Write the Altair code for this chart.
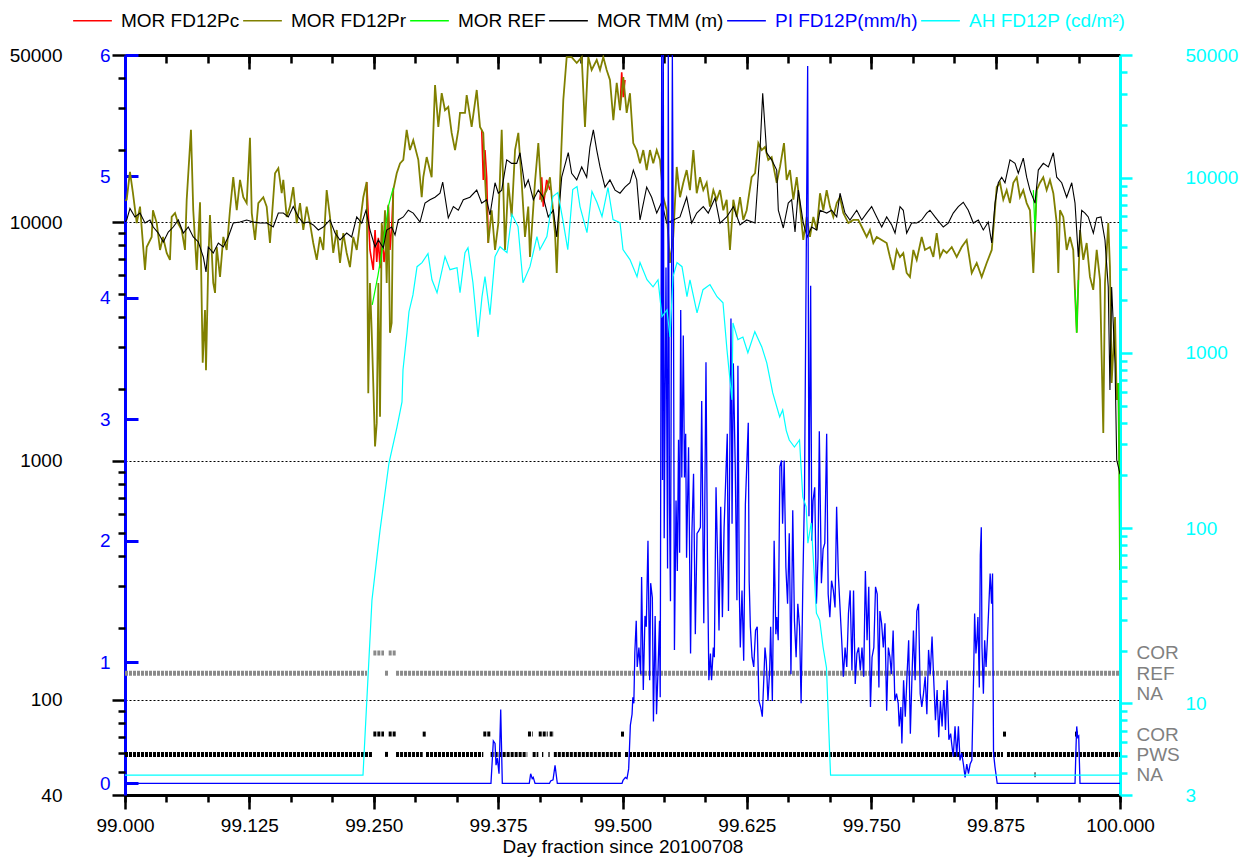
import altair as alt
import pandas as pd

FONT = "Liberation Sans"
FS = 19
DAY0 = 99.0

# ---------------- series names / colours ----------------
SERIES = ["MOR FD12Pc", "MOR FD12Pr", "MOR REF", "MOR TMM (m)", "PI FD12P(mm/h)", "AH FD12P (cd/m\u00b2)"]
COLORS = ["#ff0000", "#808000", "#00ff00", "#000000", "#0000ff", "#00ffff"]
LEGEND_TEXT_COLORS = ["#000000", "#000000", "#000000", "#000000", "#0000ff", "#00ffff"]

# ---------------- MOR FD12Pr (olive) : day fraction, metres ----------------
olive_t = [
    0, 0.0017, 0.005, 0.008, 0.0118, 0.0151, 0.0201, 0.0218, 0.0268, 0.0281,
    0.0319, 0.0352, 0.0382, 0.0419, 0.0452, 0.0469, 0.0503, 0.0533, 0.057, 0.0603,
    0.062, 0.0663, 0.0686, 0.0721, 0.0754, 0.0781, 0.0804, 0.0814, 0.0837, 0.0854,
    0.0887, 0.0905, 0.0922, 0.0955, 0.0988, 0.1022, 0.1055, 0.1088, 0.1123, 0.1156,
    0.1189, 0.1223, 0.1256, 0.1274, 0.1307, 0.134, 0.139, 0.1424, 0.1457, 0.1474,
    0.1508, 0.1541, 0.1575, 0.1591, 0.1625, 0.1658, 0.1691, 0.1726, 0.1759, 0.1792,
    0.1826, 0.1859, 0.1892, 0.1927, 0.196, 0.1993, 0.2027, 0.206, 0.2093, 0.2128,
    0.2161, 0.2194, 0.2228, 0.2261, 0.2294, 0.2329, 0.2362, 0.2395, 0.2429, 0.2445,
    0.2462, 0.2479, 0.2495, 0.2513, 0.253, 0.2546, 0.2563, 0.258, 0.2596, 0.2613,
    0.263, 0.2646, 0.2663, 0.268, 0.2696, 0.2731, 0.2764, 0.2797, 0.2831, 0.2864,
    0.2897, 0.2948, 0.2982, 0.2998, 0.3032, 0.3082, 0.3116, 0.3149, 0.3183, 0.3216,
    0.3249, 0.3283, 0.3317, 0.335, 0.3367, 0.3417, 0.3434, 0.3484, 0.3535, 0.3568,
    0.3601, 0.3618, 0.3651, 0.3685, 0.3719, 0.3752, 0.3786, 0.3819, 0.3852, 0.3886,
    0.392, 0.3953, 0.3987, 0.402, 0.4053, 0.407, 0.412, 0.4154, 0.4188, 0.4238,
    0.4271, 0.4322, 0.4339, 0.4372, 0.4405, 0.4439, 0.4489, 0.454, 0.459, 0.4623,
    0.4656, 0.469, 0.4741, 0.4774, 0.4807, 0.4841, 0.4874, 0.4908, 0.4942, 0.4975,
    0.5008, 0.5042, 0.5075, 0.5108, 0.5143, 0.5176, 0.5209, 0.5243, 0.5276, 0.5309,
    0.5344, 0.5377, 0.541, 0.5444, 0.5477, 0.551, 0.5545, 0.5578, 0.5611, 0.5645,
    0.5678, 0.5712, 0.5746, 0.5779, 0.5812, 0.5846, 0.5879, 0.5913, 0.5947, 0.598,
    0.6013, 0.6047, 0.608, 0.6114, 0.6148, 0.6181, 0.6214, 0.6248, 0.6298, 0.6332,
    0.6365, 0.6399, 0.6432, 0.6465, 0.6499, 0.655, 0.6583, 0.6623, 0.665, 0.6683,
    0.6717, 0.6751, 0.6784, 0.6817, 0.6851, 0.6884, 0.6918, 0.6952, 0.6985, 0.7018,
    0.7052, 0.7085, 0.7119, 0.7153, 0.7186, 0.7219, 0.727, 0.732, 0.737, 0.742,
    0.7454, 0.7487, 0.7521, 0.7555, 0.7605, 0.7655, 0.7688, 0.7722, 0.7756, 0.7789,
    0.7822, 0.7856, 0.7889, 0.7923, 0.7957, 0.8007, 0.804, 0.809, 0.8124, 0.8158,
    0.8191, 0.8224, 0.8258, 0.8309, 0.8359, 0.8409, 0.8459, 0.851, 0.856, 0.861,
    0.866, 0.8711, 0.8727, 0.8761, 0.8794, 0.8827, 0.8861, 0.8894, 0.8928, 0.8962,
    0.8995, 0.9028, 0.9062, 0.9095, 0.9129, 0.9146, 0.9163, 0.9196, 0.9229, 0.9263,
    0.9296, 0.933, 0.9364, 0.938, 0.9397, 0.943, 0.9464, 0.9497, 0.953, 0.9565,
    0.9598, 0.9631, 0.9665, 0.9698, 0.9731, 0.9766, 0.9799, 0.9832, 0.9849, 0.9882,
    0.9899, 0.9916, 0.995, 0.9967, 0.9983, 0.9993, 1.0,
]
olive_v = [
    12300, 12400, 16200, 13200, 9900, 11600, 6300, 7860, 8660, 11200,
    9900, 7640, 8660, 7420, 6940, 10500, 10900, 9900, 9260, 7640,
    12400, 24300, 11200, 6300, 12100, 2580, 4280, 2400, 6740, 10700,
    5560, 5050, 7860, 5890, 8660, 7640, 11200, 15400, 11200, 15000,
    12700, 12000, 22500, 10900, 8410, 12000, 12700, 11600, 8170, 10200,
    16000, 16800, 13200, 15000, 10500, 11600, 14000, 9900, 12000, 9260,
    11600, 9900, 8170, 6940, 8660, 7640, 13600, 10500, 7420, 9260,
    6740, 8990, 7420, 6480, 8660, 7640, 9900, 12700, 14700, 1920,
    5560, 3530, 2120, 1150, 1440, 5560, 1530, 9900, 7640, 11200,
    5560, 11600, 3440, 3780, 13600, 16000, 17600, 18200, 24300, 20000,
    22000, 18200, 12700, 15400, 18700, 15400, 37400, 25000, 34600, 29400,
    30300, 23600, 20000, 24300, 28600, 28600, 34000, 25000, 35700, 25000,
    23600, 15400, 8170, 11200, 7640, 9900, 24300, 7640, 14600, 10500,
    20000, 23600, 14600, 8660, 11600, 7140, 14600, 21400, 12400, 13600,
    15400, 8990, 6120, 14600, 32400, 49000, 49000, 46300, 49000, 25000,
    49000, 43300, 47700, 43300, 49000, 43300, 39300, 26700, 38200, 29400,
    40400, 28600, 34600, 21400, 20000, 17600, 20000, 16500, 20000, 17600,
    20000, 18200, 12700, 11200, 6740, 8660, 17000, 12700, 14600, 16500,
    13600, 20000, 13200, 15400, 13600, 14600, 11600, 13600, 12400, 13600,
    11200, 12400, 7640, 12400, 10500, 12700, 10200, 11200, 15400, 16000,
    21400, 20000, 20600, 18200, 18700, 14600, 17000, 21400, 15000, 16500,
    12400, 15400, 11600, 8410, 10500, 8660, 10500, 9260, 13200, 11200,
    13600, 11600, 10500, 12000, 12700, 10900, 9900, 10200, 10200, 9260,
    8660, 9260, 8170, 8660, 8410, 8170, 7140, 6300, 7640, 7140,
    7420, 6120, 5890, 7640, 6940, 8660, 7640, 7860, 7140, 8990,
    7140, 7640, 7420, 7860, 7140, 7860, 8410, 6120, 6740, 5890,
    6740, 7640, 9260, 14000, 14600, 12400, 13600, 12000, 14600, 15400,
    12700, 13600, 12000, 11200, 6120, 9260, 13600, 14600, 15400, 13600,
    15000, 13200, 9900, 6120, 11200, 10500, 7640, 8660, 7640, 3440,
    9260, 6940, 8170, 5890, 5200, 7640, 5720, 1310, 5560, 9900,
    6480, 2120, 4000, 1800, 2120, 910, 350,
]

# ---------------- MOR TMM (black) ----------------
tmm_t = [
    0, 0.0017, 0.005, 0.01, 0.0151, 0.0201, 0.0251, 0.0284, 0.0335, 0.0385,
    0.0435, 0.0485, 0.0536, 0.0586, 0.0636, 0.0686, 0.0737, 0.0787, 0.0814, 0.0837,
    0.0887, 0.0938, 0.0988, 0.1038, 0.1088, 0.1156, 0.1223, 0.1289, 0.1357, 0.1424,
    0.149, 0.1541, 0.1591, 0.1641, 0.1691, 0.1742, 0.1792, 0.1842, 0.1892, 0.1943,
    0.1993, 0.206, 0.2111, 0.2161, 0.2228, 0.2278, 0.2329, 0.2379, 0.2422, 0.2462,
    0.2513, 0.2546, 0.2596, 0.263, 0.268, 0.2714, 0.2747, 0.2797, 0.2847, 0.2897,
    0.2965, 0.3015, 0.3065, 0.3116, 0.3166, 0.3193, 0.3249, 0.33, 0.335, 0.34,
    0.3467, 0.3535, 0.3585, 0.3635, 0.3668, 0.3719, 0.3752, 0.3786, 0.3836, 0.3886,
    0.3937, 0.397, 0.402, 0.4053, 0.4104, 0.4154, 0.4204, 0.4254, 0.4305, 0.4339,
    0.4389, 0.4455, 0.4489, 0.454, 0.459, 0.464, 0.4673, 0.4707, 0.4741, 0.4774,
    0.4824, 0.4874, 0.4925, 0.4975, 0.5025, 0.5075, 0.5109, 0.5143, 0.5176, 0.5243,
    0.5293, 0.5344, 0.5394, 0.5444, 0.5511, 0.5578, 0.5645, 0.5695, 0.5746, 0.5812,
    0.5862, 0.593, 0.598, 0.6047, 0.6114, 0.6181, 0.6248, 0.6332, 0.6382, 0.6409,
    0.6449, 0.6499, 0.655, 0.6566, 0.6616, 0.6666, 0.67, 0.6734, 0.6767, 0.6817,
    0.6857, 0.6901, 0.6952, 0.6985, 0.7052, 0.7102, 0.7153, 0.7186, 0.7236, 0.7286,
    0.7354, 0.7404, 0.7454, 0.7504, 0.7555, 0.7605, 0.7655, 0.7706, 0.7739, 0.7789,
    0.7822, 0.7856, 0.7906, 0.7957, 0.8007, 0.8057, 0.809, 0.8141, 0.8191, 0.8224,
    0.8274, 0.8324, 0.8375, 0.8425, 0.8475, 0.8526, 0.8576, 0.8626, 0.8676, 0.8711,
    0.8744, 0.8777, 0.8811, 0.8844, 0.8894, 0.8945, 0.8978, 0.9028, 0.9062, 0.9095,
    0.9146, 0.9179, 0.9229, 0.928, 0.933, 0.9364, 0.9414, 0.9464, 0.9515, 0.9548,
    0.9581, 0.9615, 0.9648, 0.9681, 0.9732, 0.9766, 0.9809, 0.9849, 0.9882, 0.9899,
    0.9916, 0.995, 0.9967, 0.9993, 1.0,
]
tmm_v = [
    10000, 10200, 11400, 10500, 10900, 9900, 10200, 9530, 8990, 8250,
    9080, 9530, 10200, 8990, 9530, 8660, 8250, 7140, 6180, 7860,
    7420, 8170, 7860, 8660, 9900, 10000, 10200, 10000, 9900, 9900,
    9530, 10900, 10900, 10500, 11600, 10500, 9900, 10000, 9720, 9260,
    9530, 10200, 8990, 8410, 8990, 8660, 10500, 9900, 11200, 9260,
    7860, 8410, 7800, 9260, 9530, 8820, 10200, 10500, 11200, 10900,
    10000, 12000, 12400, 12700, 13200, 14700, 10400, 11600, 11200, 12400,
    12700, 13600, 12000, 12400, 10700, 14600, 13200, 13600, 18200, 17600,
    17600, 19500, 14000, 15000, 12400, 13600, 12700, 10500, 11200, 8660,
    15400, 19500, 16000, 15000, 17000, 15400, 20600, 24300, 20000, 17000,
    14000, 15000, 13600, 13200, 14000, 14600, 16500, 15000, 10200, 14000,
    12700, 10900, 12100, 9900, 10200, 10500, 12700, 9900, 10900, 11600,
    10900, 12600, 9900, 10500, 11600, 9720, 10200, 9900, 20000, 34600,
    19500, 18200, 16500, 11200, 9440, 12000, 12400, 9080, 13600, 9900,
    8660, 9530, 9260, 11200, 10900, 11200, 10500, 13200, 10900, 10200,
    11200, 10200, 10900, 11600, 10500, 9530, 10500, 9720, 8990, 11600,
    11200, 8990, 9900, 9900, 10200, 10900, 11200, 10500, 9900, 9530,
    9900, 10900, 11600, 12100, 11200, 9900, 10200, 9260, 10000, 8170,
    12000, 14600, 15400, 14600, 18200, 17600, 16000, 18500, 15400, 13600,
    12000, 16500, 17600, 17000, 19500, 15400, 14600, 12700, 14600, 12000,
    7140, 11200, 10900, 10500, 8990, 10400, 10500, 8410, 5350, 1980,
    5350, 2560, 1010, 910, 880,
]

# ---------------- MOR FD12Pc (red) : visible stretches ----------------
red_segments = [
    ([0.2429, 0.2462, 0.2495, 0.2513, 0.253, 0.2546, 0.2563, 0.2583, 0.2603, 0.263, 0.2646, 0.2663, 0.2683, 0.2696],
     [14700, 7640, 6300, 9260, 6800, 8580, 6400, 9700, 6800, 8410, 11800, 7640, 10000, 13600]),
    ([0.3585, 0.3601, 0.3618, 0.3635, 0.3651], [24300, 15000, 20000, 15400, 8170]),
    ([0.4171, 0.4188, 0.4204, 0.4238, 0.4271], [12400, 15400, 11600, 15000, 13600]),
    ([0.4975, 0.4992, 0.5008, 0.5025], [29400, 42300, 33300, 39300]),
]

# ---------------- MOR REF (green) : visible stretches ----------------
green_segments = [
    ([0.2485, 0.2543, 0.2596, 0.2646, 0.2696], [4500, 6000, 8170, 11600, 13900]),
    ([0.9129, 0.9146, 0.9163], [13600, 9080, 13600]),
    ([0.9548, 0.9565, 0.9581], [5200, 3440, 5720]),
    ([0.9983, 0.9993, 1.0], [2120, 910, 350]),
]

# ---------------- PI FD12P (mm/h) ----------------
pi_t = [
    0.0, 0.3678, 0.3702, 0.3719, 0.3729, 0.3742, 0.3759, 0.3776, 0.3792, 0.4063,
    0.4077, 0.4093, 0.4103, 0.4121, 0.4266, 0.4278, 0.4302, 0.4322, 0.4345, 0.4995,
    0.5005, 0.5029, 0.5045, 0.5062, 0.5079, 0.5096, 0.5104, 0.5114, 0.5124, 0.5138,
    0.5148, 0.5165, 0.5182, 0.5192, 0.5209, 0.5226, 0.5239, 0.5256, 0.5273, 0.5283,
    0.5300, 0.5311, 0.5328, 0.5342, 0.5358, 0.5372, 0.5379, 0.5394, 0.5402, 0.5410,
    0.5419, 0.5437, 0.5453, 0.5460, 0.5472, 0.5482, 0.5501, 0.5511, 0.5522, 0.5538,
    0.5551, 0.5563, 0.5574, 0.5585, 0.5596, 0.5611, 0.5623, 0.5635, 0.5644, 0.5664,
    0.5684, 0.5698, 0.5714, 0.5732, 0.5749, 0.5766, 0.5783, 0.5796, 0.5817, 0.5839,
    0.5854, 0.5868, 0.5884, 0.5895, 0.5913, 0.5923, 0.5940, 0.5956, 0.5970, 0.5987,
    0.6004, 0.6021, 0.6053, 0.6065, 0.6090, 0.6101, 0.6114, 0.6133, 0.6150, 0.6160,
    0.6174, 0.6184, 0.6201, 0.6218, 0.6235, 0.6264, 0.6273, 0.6285, 0.6302, 0.6319,
    0.6337, 0.6354, 0.6371, 0.6388, 0.6405, 0.6422, 0.6432, 0.6445, 0.6462, 0.6479,
    0.6489, 0.6506, 0.6524, 0.6541, 0.6551, 0.6565, 0.6582, 0.6598, 0.6609, 0.6625,
    0.6642, 0.6659, 0.6676, 0.6693, 0.6711, 0.6728, 0.6745, 0.6762, 0.6779, 0.6795,
    0.6812, 0.6829, 0.6861, 0.6874, 0.6891, 0.6902, 0.6915, 0.6932, 0.6949, 0.6965,
    0.6978, 0.6999, 0.7016, 0.7033, 0.7052, 0.7067, 0.7084, 0.7101, 0.7119, 0.7136,
    0.7152, 0.7169, 0.7186, 0.7203, 0.7220, 0.7237, 0.7254, 0.7271, 0.7288, 0.7306,
    0.7322, 0.7339, 0.7356, 0.7373, 0.7390, 0.7407, 0.7424, 0.7441, 0.7458, 0.7475,
    0.7492, 0.7508, 0.7526, 0.7543, 0.7560, 0.7577, 0.7587, 0.7604, 0.7621, 0.7638,
    0.7655, 0.7672, 0.7688, 0.7702, 0.7720, 0.7737, 0.7754, 0.7771, 0.7781, 0.7798,
    0.7808, 0.7825, 0.7842, 0.7859, 0.7876, 0.7893, 0.7910, 0.7924, 0.7941, 0.7958,
    0.7975, 0.7992, 0.8008, 0.8025, 0.8042, 0.8059, 0.8076, 0.8093, 0.8111, 0.8128,
    0.8145, 0.8162, 0.8178, 0.8195, 0.8212, 0.8229, 0.8246, 0.8263, 0.8280, 0.8298,
    0.8308, 0.8324, 0.8342, 0.8359, 0.8376, 0.8392, 0.8409, 0.8426, 0.8443, 0.8460,
    0.8477, 0.8494, 0.8511, 0.8529, 0.8539, 0.8552, 0.8562, 0.8572, 0.8586, 0.8596,
    0.8606, 0.8613, 0.8627, 0.8640, 0.8654, 0.8667, 0.8681, 0.8695, 0.8709, 0.8719,
    0.8729, 0.8743, 0.8766, 0.9548, 0.9558, 0.9565, 0.9575, 0.9585, 0.9598, 1.0,
]
pi_v = [
    0, 0, 0.35, 0.33, 0.15, 0.21, 0.08, 0.61, 0, 0,
    0.08, 0.04, 0.05, 0, 0, 0.02, 0.03, 0.15, 0, 0,
    0.025, 0.05, 0.04, 0.12, 0.48, 0.57, 0.71, 0.66, 1.08, 1.34,
    0.96, 1.12, 0.90, 1.70, 0.77, 1.38, 1.29, 2.0, 0.85, 1.65,
    1.53, 0.51, 1.38, 0.57, 0.96, 1.34, 0.71, 6.0, 2.5, 6.0,
    2.02, 4.25, 1.77, 6.0, 2.3, 1.5, 6.0, 4.4, 1.10, 2.33,
    1.75, 2.83, 1.9, 3.9, 2.52, 3.69, 2.52, 2.88, 1.86, 2.77,
    1.07, 2.08, 2.55, 1.23, 2.06, 2.08, 2.11, 3.15, 1.32, 3.47,
    1.84, 0.85, 1.07, 0.85, 1.12, 1.04, 2.44, 1.84, 1.26, 2.28,
    1.37, 2.11, 2.88, 1.42, 3.83, 2.14, 3.46, 2.61, 1.51, 3.44,
    1.59, 1.12, 1.59, 1.01, 2.30, 2.97, 1.67, 1.29, 1.04, 0.96,
    1.26, 1.29, 0.68, 0.63, 0.55, 0.90, 1.12, 1.01, 0.68, 0.93,
    1.29, 0.68, 2.0, 1.23, 1.37, 1.18, 2.61, 2.66, 2.14, 2.66,
    1.78, 1.48, 2.06, 0.90, 2.25, 1.34, 1.04, 1.48, 1.29, 0.66,
    1.62, 2.39, 5.91, 2.2, 4.1, 2.0, 2.33, 2.44, 1.48, 1.86,
    2.9, 1.65, 1.93, 1.98, 2.88, 1.56, 1.37, 1.67, 1.59, 1.45,
    2.28, 1.73, 1.45, 1.18, 0.88, 1.12, 0.96, 1.40, 1.59, 0.93,
    1.59, 0.82, 1.07, 1.12, 0.93, 1.12, 0.88, 1.75, 1.18, 1.62,
    0.63, 1.04, 1.12, 1.62, 1.56, 0.79, 1.42, 1.32, 1.12, 1.32,
    0.60, 1.12, 1.04, 0.90, 1.26, 0.68, 0.74, 0.66, 0.47, 0.63,
    0.33, 0.85, 0.55, 0.88, 1.18, 0.41, 0.90, 1.26, 0.85, 1.42,
    1.48, 0.74, 0.63, 0.74, 0.88, 0.57, 1.10, 0.90, 1.21, 0.85,
    0.52, 0.77, 0.38, 0.68, 0.47, 0.77, 0.44, 0.85, 0.36, 0.41,
    0.33, 0.22, 0.47, 0.22, 0.47, 0.19, 0.25, 0.16, 0.05, 0.16,
    0.08, 0.16, 0.19, 0.90, 1.40, 1.07, 1.18, 1.37, 0.79, 1.88,
    2.11, 1.12, 0.74, 1.18, 0.96, 1.18, 1.45, 1.73, 1.48, 1.73,
    0.25, 0.14, 0, 0, 0.30, 0.47, 0.38, 0.39, 0, 0,
]

# ---------------- AH FD12P (cd/m2) ----------------
ah_t = [
    0.0, 0.2392, 0.2482, 0.2563, 0.2653, 0.2734, 0.2784, 0.2794, 0.2834, 0.2854,
    0.2894, 0.2935, 0.2985, 0.3045, 0.3085, 0.3136, 0.3216, 0.3266, 0.3337, 0.3367,
    0.3417, 0.3447, 0.3497, 0.3548, 0.3588, 0.3618, 0.3668, 0.3719, 0.3769, 0.3839,
    0.3889, 0.395, 0.4, 0.407, 0.414, 0.417, 0.424, 0.43, 0.435, 0.44,
    0.445, 0.45, 0.4543, 0.4573, 0.4643, 0.4693, 0.4744, 0.4794, 0.4854, 0.4905,
    0.4975, 0.5005, 0.5075, 0.5146, 0.5176, 0.5246, 0.5307, 0.5357, 0.5397, 0.5447,
    0.5477, 0.5508, 0.5548, 0.5598, 0.5648, 0.5678, 0.5749, 0.5809, 0.5879, 0.595,
    0.601, 0.605, 0.61, 0.611, 0.616, 0.621, 0.626, 0.633, 0.64, 0.645,
    0.651, 0.658, 0.661, 0.6646, 0.6676, 0.6728, 0.6779, 0.6812, 0.6846, 0.6863,
    0.6897, 0.6949, 0.6982, 0.7016, 0.705, 0.7084, 0.7091, 1.0,
]
ah_v = [
    3.9, 3.9, 38.8, 97, 235, 378, 525, 800, 1300, 1715,
    2140, 3100, 3270, 3680, 2610, 2200, 3540, 2980, 3060, 2200,
    3730, 3980, 2510, 1230, 2090, 2720, 1650, 3540, 4030, 3730,
    6150, 5250, 2510, 3100, 4600, 3880, 4600, 7790, 8210, 5750,
    3880, 8540, 8890, 6830, 4850, 8320, 7200, 5990, 8770, 5750,
    5530, 3880, 3400, 2720, 3270, 2610, 2380, 2610, 1610, 1760,
    1230, 2720, 3270, 3100, 2090, 2610, 1690, 2290, 2450, 2090,
    1930, 1040, 539, 1480, 1190, 1230, 1000, 1320, 1080, 877,
    590, 430, 472, 360, 318, 290, 318, 150, 132, 82,
    107, 32.7, 29.8, 20.9, 16, 4.9, 3.9, 3.9,
]

# ---------------- status flags (start, end, level) ----------------
STATUS_LEVELS = [7, 6, 5, 3, 2, 1]
STATUS_LABELS = ["COR", "REF", "NA", "COR", "PWS", "NA"]
gray_start = [0.0, 0.2613, 0.2724, 0.2496, 0.265]
gray_end = [0.2432, 0.2643, 1.0, 0.2603, 0.2724]
gray_level = [6, 6, 6, 7, 7]
black_start = [0.0, 0.2613, 0.2724, 0.3025, 0.3675, 0.4097, 0.4191, 0.4255, 0.431, 0.5025, 0.8864,
               0.2496, 0.265, 0.2992, 0.3601, 0.405, 0.4158, 0.4268, 0.4985, 0.8824, 0.9548,
               0.9141]
black_end = [0.2482, 0.2643, 0.2992, 0.3601, 0.4043, 0.4154, 0.4204, 0.4268, 0.4985, 0.8824, 1.0,
             0.2603, 0.2724, 0.3025, 0.3675, 0.4097, 0.4248, 0.431, 0.5025, 0.8864, 0.9585,
             0.9151]
black_level = [2, 2, 2, 2, 2, 2, 2, 2, 2, 2, 2,
               3, 3, 3, 3, 3, 3, 3, 3, 3, 3,
               1]

# ---------------- tick values ----------------
X_MAJOR = [99.0, 99.125, 99.25, 99.375, 99.5, 99.625, 99.75, 99.875, 100.0]
X_HOURS = [DAY0 + k / 24 for k in range(25)]
MOR_MAJOR = [40, 100, 1000, 10000, 50000]
MOR_MINOR = [50, 60, 70, 80, 90,
             200, 300, 400, 500, 600, 700, 800, 900,
             2000, 3000, 4000, 5000, 6000, 7000, 8000, 9000,
             20000, 30000, 40000]
PI_TICKS = [0, 1, 2, 3, 4, 5, 6]
AH_MAJOR = [3, 10, 100, 1000, 10000, 50000]
AH_MINOR = [4, 5, 6, 7, 8, 9,
            20, 30, 40, 50, 60, 70, 80, 90,
            200, 300, 400, 500, 600, 700, 800, 900,
            2000, 3000, 4000, 5000, 6000, 7000, 8000, 9000,
            20000, 30000, 40000]


# ---------------- frames ----------------
def line_frame(ts, vs, name, seg=0):
    n = min(len(ts), len(vs))
    return pd.DataFrame({"day": [DAY0 + t for t in ts[:n]], "value": vs[:n], "series": name, "seg": seg})


def seg_frame(segs, name):
    return pd.concat([line_frame(t, v, name, i) for i, (t, v) in enumerate(segs)], ignore_index=True)


red_df = seg_frame(red_segments, SERIES[0])
olive_df = line_frame(olive_t, olive_v, SERIES[1])
green_df = seg_frame(green_segments, SERIES[2])
tmm_df = line_frame(tmm_t, tmm_v, SERIES[3])
pi_df = line_frame(pi_t, pi_v, SERIES[4])
ah_df = line_frame(ah_t, ah_v, SERIES[5])
gray_df = pd.DataFrame({"start": [DAY0 + t for t in gray_start], "end": [DAY0 + t for t in gray_end], "level": gray_level})
black_df = pd.DataFrame({"start": [DAY0 + t for t in black_start], "end": [DAY0 + t for t in black_end], "level": black_level})

# ---------------- scales ----------------
XSCALE = alt.Scale(domain=[99.0, 100.0], nice=False, zero=False)
MOR_SCALE = alt.Scale(type="log", domain=[40, 50000], nice=False)
PI_SCALE = alt.Scale(domain=[-0.095, 6], nice=False, zero=False)
AH_SCALE = alt.Scale(type="log", domain=[3, 50000], nice=False)
ST_SCALE = alt.Scale(domain=[0, 36.45], nice=False, zero=False)

# ---------------- axes ----------------
tick_common = dict(grid=False, title=None, tickWidth=2.5)
ax_bottom_major = alt.Axis(orient="bottom", values=X_MAJOR, format=".3f", tickSize=14, tickColor="#000000",
                           domain=True, domainColor="#000000", domainWidth=3, labelFont=FONT, labelFontSize=FS,
                           labelColor="#000000", labelPadding=7, labelFlush=False, labelOverlap=False, grid=False,
                           tickWidth=2.5, title="Day fraction since 20100708", titleFont=FONT, titleFontSize=FS,
                           titleFontWeight="normal", titleColor="#000000", titlePadding=2)
ax_bottom_minor = alt.Axis(orient="bottom", values=X_HOURS, tickSize=7, tickColor="#000000", domain=False,
                           labels=False, **tick_common)
ax_top_major = alt.Axis(orient="top", values=X_MAJOR, offset=-14, tickSize=14, tickColor="#000000", domain=False,
                        labels=False, **tick_common)
ax_top_minor = alt.Axis(orient="top", values=X_HOURS, offset=-8, tickSize=8, tickColor="#000000", domain=False,
                        labels=False, **tick_common)
ax_top_line = alt.Axis(orient="top", domain=True, domainColor="#000000", domainWidth=3, ticks=False, labels=False,
                       grid=False, title=None)

ax_mor_major = alt.Axis(orient="left", values=MOR_MAJOR, format="d", tickSize=13, tickWidth=2.5, tickColor="#000000",
                        domain=True, domainColor="#0000ff", domainWidth=3, labelFont=FONT, labelFontSize=FS,
                        labelColor="#000000", labelPadding=50, labelOverlap=False, labelFlush=False, grid=True,
                        gridColor="#000000", gridDash=[2, 2], gridWidth=1, title=None)
ax_mor_minor = alt.Axis(orient="left", values=MOR_MINOR, tickSize=7, tickColor="#000000", domain=False,
                        labels=False, **tick_common)
ax_pi = alt.Axis(orient="left", values=PI_TICKS, format="d", offset=-13, tickSize=13, tickWidth=3,
                 tickColor="#0000ff", domain=False, labelFont=FONT, labelFontSize=FS, labelColor="#0000ff",
                 labelPadding=15, labelOverlap=False, labelFlush=False, grid=False, title=None)
ax_ah_major = alt.Axis(orient="right", values=AH_MAJOR, format="d", tickSize=12, tickWidth=2.5, tickColor="#00ffff",
                       domain=True, domainColor="#00ffff", domainWidth=3, labelFont=FONT, labelFontSize=FS,
                       labelColor="#00ffff", labelPadding=53, labelOverlap=False, labelFlush=False, grid=False,
                       title=None)
ax_ah_minor = alt.Axis(orient="right", values=AH_MINOR, tickSize=7, tickColor="#00ffff", domain=False,
                       labels=False, **tick_common)
status_expr = " ".join(f"datum.value == {lv} ? '{lb}' :" for lv, lb in zip(STATUS_LEVELS, STATUS_LABELS)) + " ''"
ax_status = alt.Axis(orient="right", values=STATUS_LEVELS, labelExpr=status_expr, ticks=False, tickSize=0,
                     domain=False, grid=False, labelFont=FONT, labelFontSize=FS, labelColor="#808080",
                     labelPadding=16, labelAlign="left", labelOverlap=False, labelFlush=False, title=None)

# ---------------- legend ----------------
label_color_expr = " ".join(f"datum.label == '{s}' ? '{c}' :" for s, c in zip(SERIES, LEGEND_TEXT_COLORS)) + " '#000000'"
legend = alt.Legend(title=None, orient="none", legendX=-53, legendY=-55, direction="horizontal",
                    symbolType="stroke", symbolSize=1500, symbolStrokeWidth=1.5, labelFont=FONT,
                    labelFontSize=FS, labelOffset=8, columnPadding=0, padding=0, labelLimit=0,
                    labelColor=alt.ExprRef(expr=label_color_expr))
COLOR = alt.Color("series:N", scale=alt.Scale(domain=SERIES, range=COLORS), legend=legend)


def X(axis):
    return alt.X("day:Q", scale=XSCALE, axis=axis)


st_gray = alt.Chart(gray_df).mark_rule(color="#8a8a8a", strokeWidth=5, strokeDash=[3, 1]).encode(
    x=alt.X("start:Q", scale=XSCALE, axis=ax_bottom_major), x2="end:Q",
    y=alt.Y("level:Q", scale=ST_SCALE, axis=ax_status))
st_black = alt.Chart(black_df).mark_rule(color="#000000", strokeWidth=5, strokeDash=[3, 1]).encode(
    x=alt.X("start:Q", scale=XSCALE, axis=ax_bottom_minor), x2="end:Q",
    y=alt.Y("level:Q", scale=ST_SCALE, axis=None))

red = alt.Chart(red_df).mark_line(strokeWidth=1.6, clip=True).encode(
    x=X(None), y=alt.Y("value:Q", scale=MOR_SCALE, axis=ax_mor_major), color=COLOR, detail="seg:N")
olive = alt.Chart(olive_df).mark_line(strokeWidth=1.8, clip=True).encode(
    x=X(ax_top_major), y=alt.Y("value:Q", scale=MOR_SCALE, axis=ax_mor_minor), color=COLOR)
green = alt.Chart(green_df).mark_line(strokeWidth=1.2, clip=True).encode(
    x=X(ax_top_minor), y=alt.Y("value:Q", scale=MOR_SCALE, axis=None), color=COLOR, detail="seg:N")
tmm = alt.Chart(tmm_df).mark_line(strokeWidth=1.1, clip=True).encode(
    x=X(ax_top_line), y=alt.Y("value:Q", scale=MOR_SCALE, axis=None), color=COLOR)
pi = alt.Chart(pi_df).mark_line(strokeWidth=1.3, clip=True).encode(
    x=X(None), y=alt.Y("value:Q", scale=PI_SCALE, axis=ax_pi), color=COLOR)
ah = alt.Chart(ah_df).mark_line(strokeWidth=1.2, clip=True).encode(
    x=X(None), y=alt.Y("value:Q", scale=AH_SCALE, axis=ax_ah_major), color=COLOR)
ah_minor = alt.Chart(ah_df).mark_line(opacity=0, clip=True).encode(
    x=X(None), y=alt.Y("value:Q", scale=AH_SCALE, axis=ax_ah_minor))

chart = (
    alt.layer(st_gray, st_black, red, olive, green, tmm, pi, ah, ah_minor)
    .resolve_scale(x="independent", y="independent")
    .resolve_axis(x="independent", y="independent")
    .properties(width=995, height=740, autosize=alt.AutoSizeParams(type="none"),
                padding={"left": 125, "top": 55, "right": 129, "bottom": 65})
    .configure_view(strokeWidth=0)
    .configure(font=FONT, background="#ffffff")
)

chart.save("out.html", embed_options={"renderer": "svg", "actions": False})
